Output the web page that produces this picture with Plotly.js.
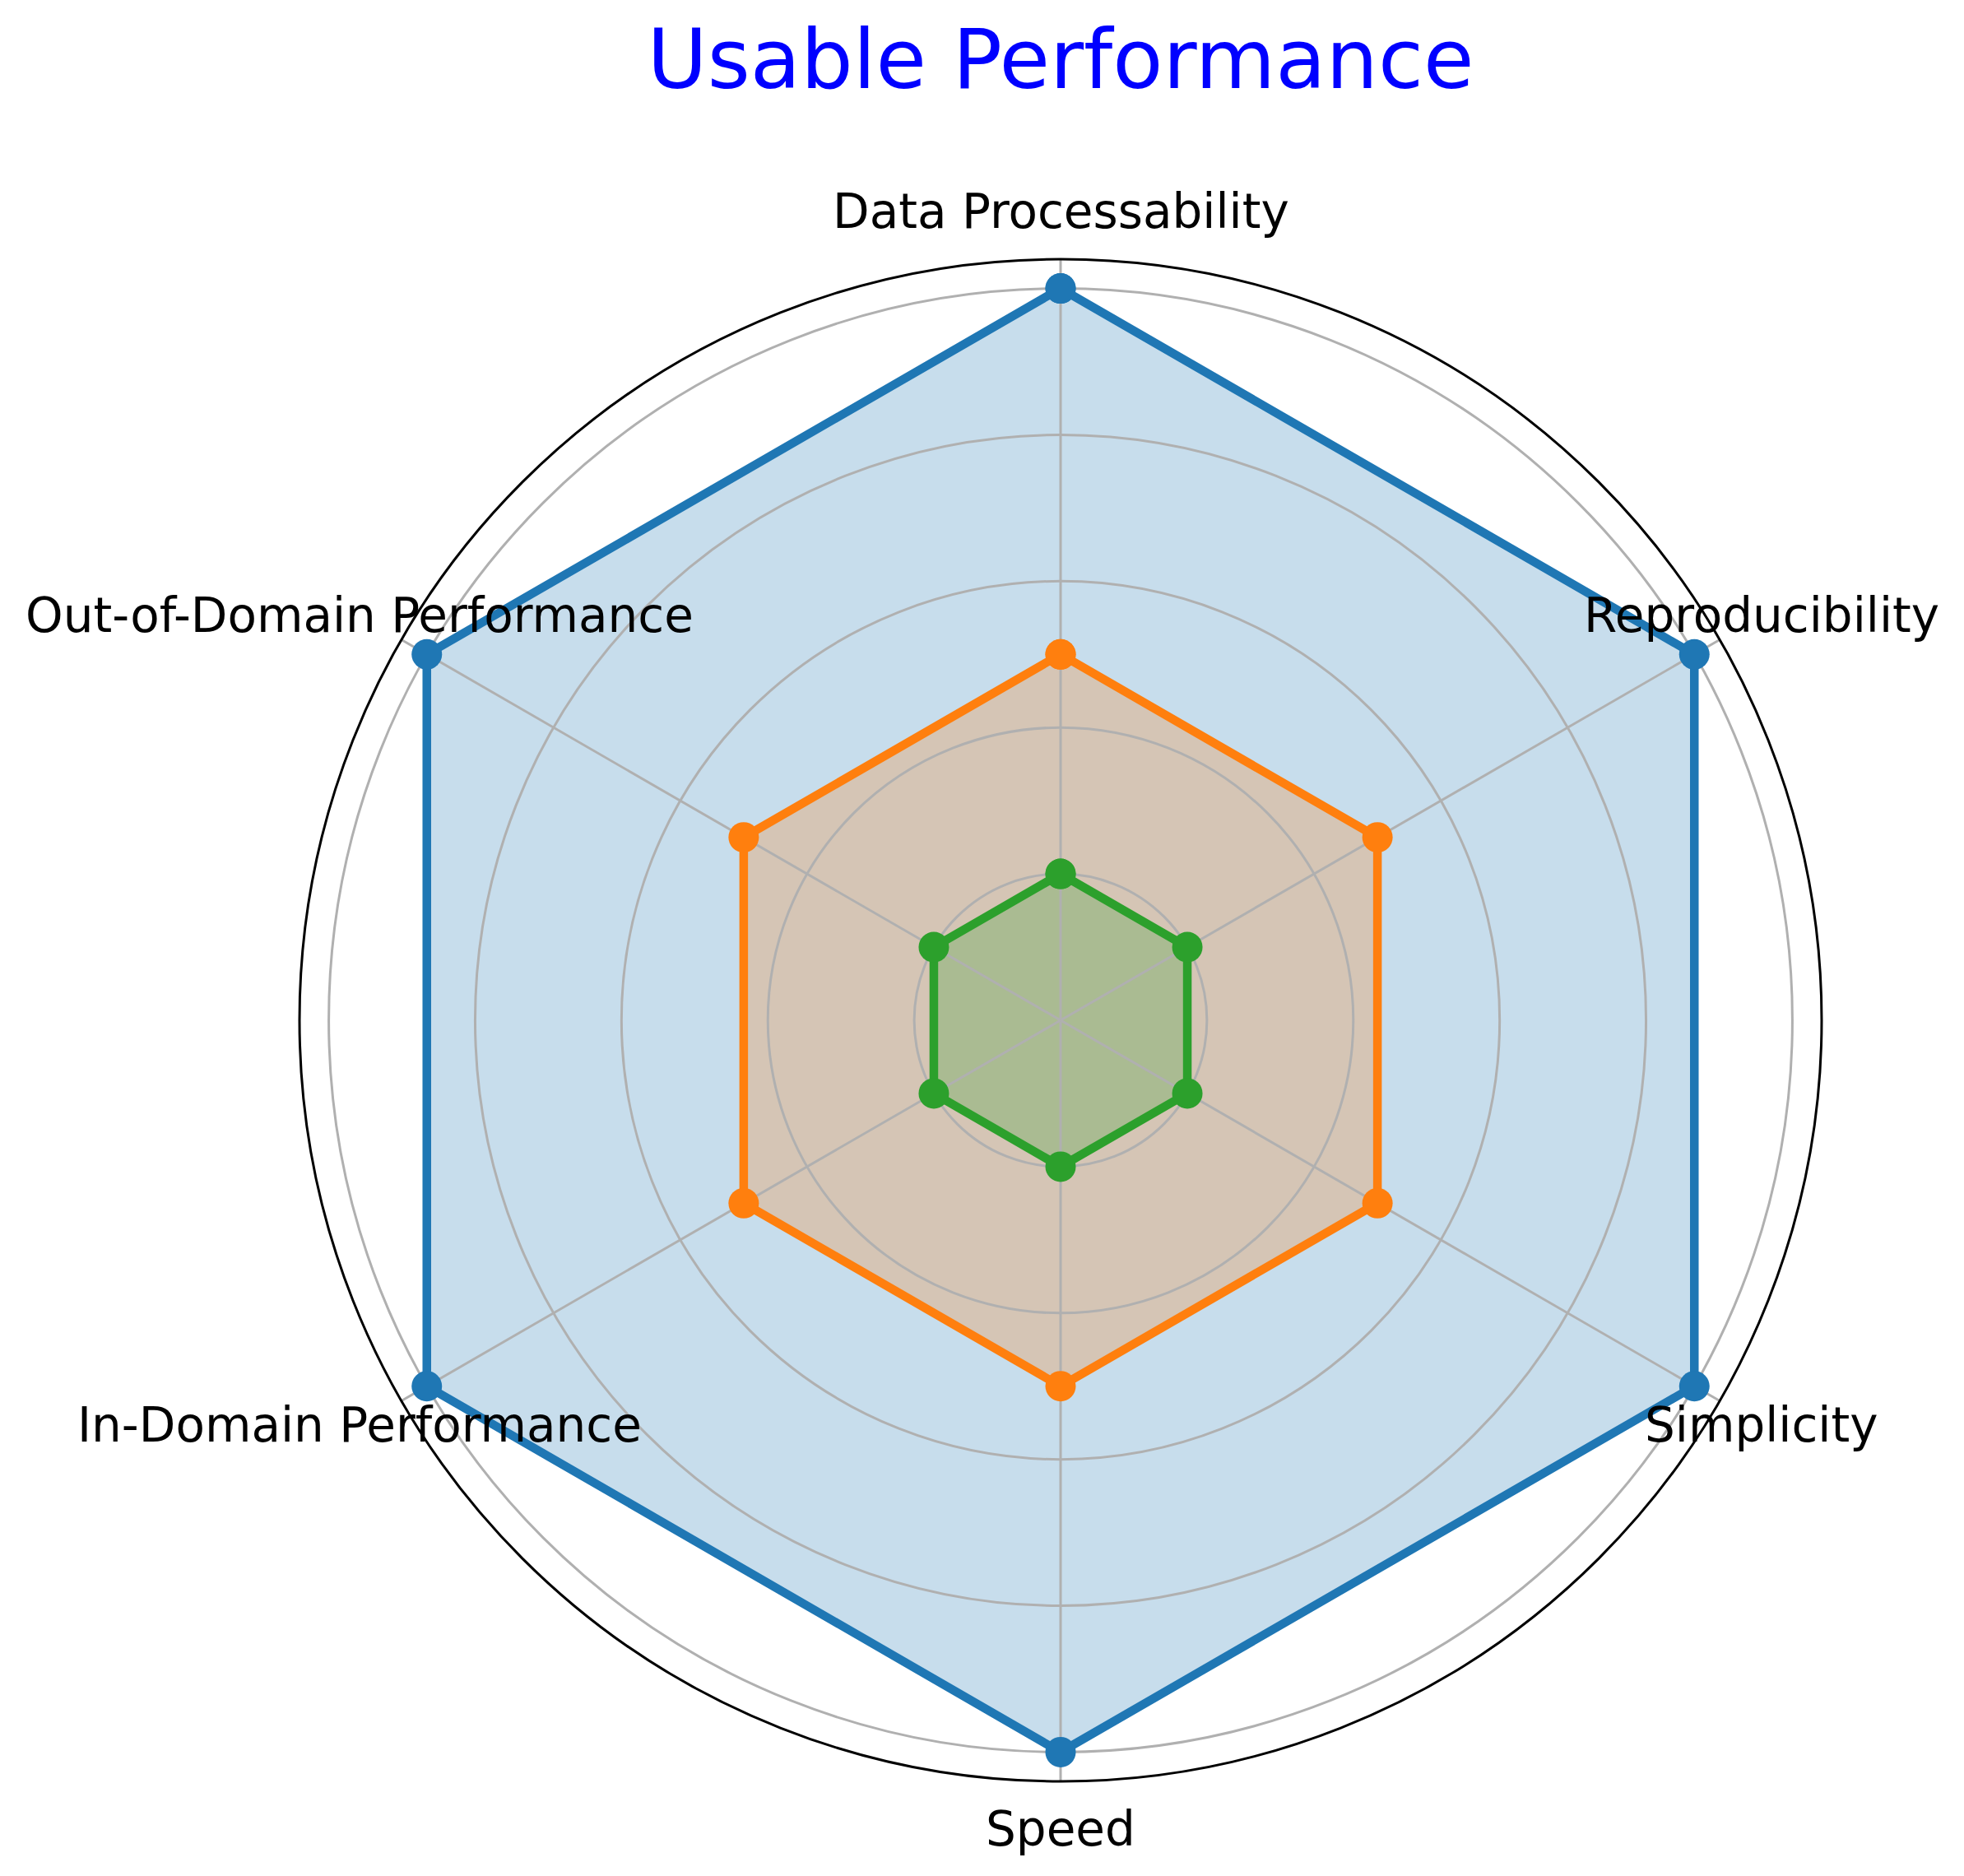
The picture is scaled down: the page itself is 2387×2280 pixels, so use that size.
<!DOCTYPE html>
<html>
<head>
<meta charset="utf-8">
<script src="https://cdn.plot.ly/plotly-3.0.1.min.js"></script>
<style>html,body{margin:0;padding:0;background:#fff;}#chart{width:2387px;height:2280px;}</style>
</head>
<body>
<div id="chart"></div>
<script>
// ---- data ----
var categories = ["Data Processability", "Reproducibility", "Simplicity", "Speed", "In-Domain Performance", "Out-of-Domain Performance"];
var seriesNames = ["Series A", "Series B", "Series C"];
var seriesA = [5, 5, 5, 5, 5, 5];
var seriesB = [2.5, 2.5, 2.5, 2.5, 2.5, 2.5];
var seriesC = [1, 1, 1, 1, 1, 1];
var radialTicks = [1, 2, 3, 4, 5];
var chartTitle = "Usable Performance";

// ---- layout geometry ----
var W = 2387, H = 2280;
var CX = 1289, CY = 1240, R = 925;   // polar center / radius in px
var RMAX = 5.2;
var LABEL_FACTOR = 1.063;
var FONT = "DejaVu Sans, sans-serif";

var colors = ["#1f77b4", "#ff7f0e", "#2ca02c"];
var fills = ["rgba(31,119,180,0.25)", "rgba(255,127,14,0.25)", "rgba(44,160,44,0.25)"];
var allSeries = [seriesA, seriesB, seriesC];

function closeLoop(a) { return a.concat([a[0]]); }

// fills live on the lower subplot (below the grid), lines+markers on the upper one
var fillTraces = allSeries.map(function (vals, i) {
  return {
    type: "scatterpolar", subplot: "polar",
    name: seriesNames[i],
    r: closeLoop(vals), theta: closeLoop(categories),
    mode: "none", fill: "toself", fillcolor: fills[i],
    hoverinfo: "skip"
  };
});
var lineTraces = allSeries.map(function (vals, i) {
  return {
    type: "scatterpolar", subplot: "polar2",
    name: seriesNames[i],
    r: closeLoop(vals), theta: closeLoop(categories),
    mode: "lines+markers",
    line: { color: colors[i], width: 10.5 },
    marker: { color: colors[i], size: 37, line: { width: 0 } },
    hoverinfo: "r+theta"
  };
});

// category labels placed like matplotlib (centered on the spoke, just outside the rim)
var annotations = categories.map(function (c, i) {
  var ang = (90 - i * 360 / categories.length) * Math.PI / 180;
  var rl = R * LABEL_FACTOR;
  var px = CX + rl * Math.cos(ang);
  var py = CY - rl * Math.sin(ang);
  return {
    text: c, xref: "paper", yref: "paper",
    x: px / W, y: 1 - py / H,
    xanchor: "center", yanchor: "middle",
    showarrow: false,
    font: { family: FONT, size: 58, color: "#000" }
  };
});

var domain = { x: [(CX - R) / W, (CX + R) / W], y: [1 - (CY + R) / H, 1 - (CY - R) / H] };

function polarCfg(withGrid, bg) {
  return {
    domain: domain,
    bgcolor: bg,
    radialaxis: {
      range: [0, RMAX],
      tickvals: radialTicks,
      showticklabels: false,
      ticks: "",
      showline: false,
      showgrid: withGrid,
      gridcolor: "#b0b0b0",
      gridwidth: 3,
      angle: 90
    },
    angularaxis: {
      type: "category",
      categoryarray: categories,
      rotation: 90,
      direction: "clockwise",
      showticklabels: false,
      ticks: "",
      showline: withGrid,
      linecolor: "#000",
      linewidth: 3,
      showgrid: withGrid,
      gridcolor: "#b0b0b0",
      gridwidth: 3
    }
  };
}

var layout = {
  width: W, height: H,
  margin: { l: 0, r: 0, t: 0, b: 0 },
  paper_bgcolor: "#fff",
  showlegend: false,
  font: { family: FONT },
  title: {
    text: chartTitle,
    font: { family: FONT, size: 100, color: "#0000ff" },
    x: CX / W, xanchor: "center",
    y: 1 - 72 / H, yanchor: "middle", yref: "container"
  },
  polar: polarCfg(false, "#ffffff"),
  polar2: polarCfg(true, "rgba(0,0,0,0)"),
  annotations: annotations
};

Plotly.newPlot("chart", fillTraces.concat(lineTraces), layout, { staticPlot: true });
</script>
</body>
</html>
